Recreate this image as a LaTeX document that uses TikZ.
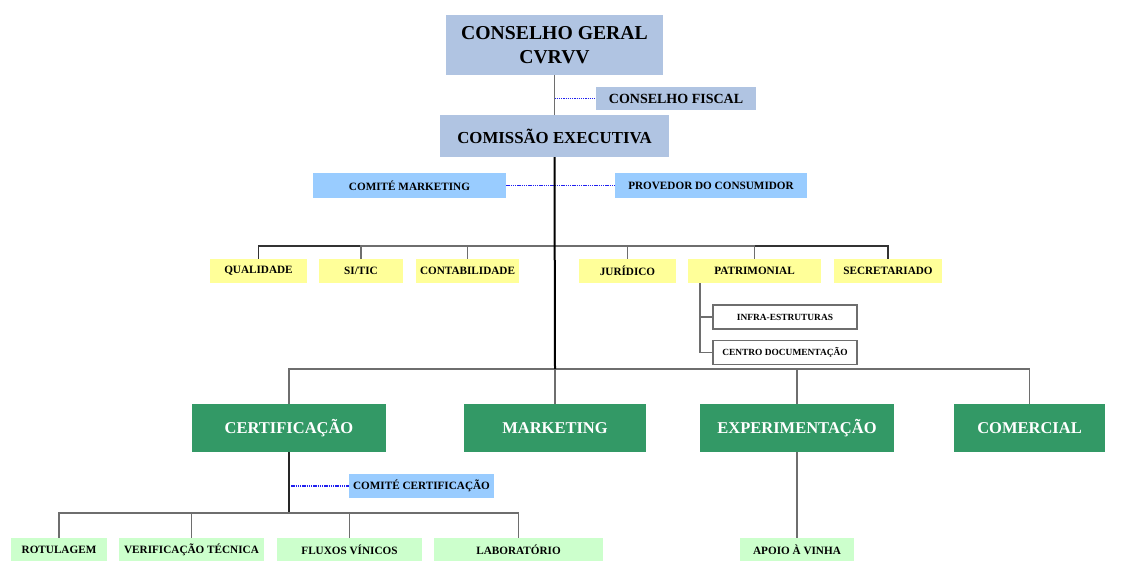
\documentclass[tikz,border=0pt]{standalone}
\usepackage{fontspec}
\setmainfont{Liberation Serif}
\usepackage{tikz}
\usetikzlibrary{calc}
\definecolor{cgblue}{HTML}{B0C4E2}
\definecolor{comiteblue}{HTML}{99CCFF}
\definecolor{staffyellow}{HTML}{FFFF99}
\definecolor{deptgreen}{HTML}{339966}
\definecolor{unitgreen}{HTML}{CCFFCC}
\definecolor{linkgray}{HTML}{6E6E6E}
\definecolor{dotblue}{HTML}{2020F0}
\newcommand{\fs}[1]{\fontsize{#1}{#1}\selectfont}
\tikzset{
  box/.style={inner sep=0pt, font=\bfseries, text=black},
  topbox/.style={box, fill=cgblue},
  comitebox/.style={box, fill=comiteblue, font=\bfseries\fs{11.2}},
  staffbox/.style={box, fill=staffyellow, font=\bfseries\fs{11.2}, minimum height=24},
  subbox/.style={box, fill=white, draw=linkgray, line width=1.1pt, font=\bfseries\fs{9.4}, minimum width=144, minimum height=24},
  deptbox/.style={box, fill=deptgreen, text=white, font=\bfseries\fs{16.5}, minimum height=48},
  unitbox/.style={box, fill=unitgreen, font=\bfseries\fs{11.2}, minimum height=23},
  link/.style={draw=linkgray, line width=1.4pt},
  trunk/.style={draw=black, line width=2pt},
  dotlink/.style={draw=dotblue, line width=1.1pt, dash pattern=on 1.3pt off 0.9pt}
}

\begin{document}
\begin{tikzpicture}[x=1pt, y=-1pt]
        \useasboundingbox (0,0) rectangle (1143,578);
        % top
        \node[topbox, minimum width=217, minimum height=60, align=center, font=\bfseries\fontsize{19.7}{24}\selectfont] (cg) at (554.5,45) {CONSELHO GERAL\\CVRVV};
        \node[topbox, minimum width=160, minimum height=23, font=\bfseries\fs{14}] (cf) at (676,98.5) {CONSELHO FISCAL};
        \node[topbox, minimum width=229, minimum height=42, font=\bfseries\fs{16.8}] (ce) at (554.5,136) {COMISSÃO EXECUTIVA};
        \node[comitebox, minimum width=193, minimum height=25] (cmk) at (409.5,185.5) {COMITÉ MARKETING};
        \node[comitebox, minimum width=192, minimum height=25] (pc) at (711,185.5) {PROVEDOR DO CONSUMIDOR};
        % staff
        \node[staffbox, minimum width=97] (qual) at (258.5,271) {QUALIDADE};
        \node[staffbox, minimum width=84] (si) at (361,271) {SI/TIC};
        \node[staffbox, minimum width=103] (cont) at (467.5,271) {CONTABILIDADE};
        \node[staffbox, minimum width=97] (jur) at (627.5,271) {JURÍDICO};
        \node[staffbox, minimum width=133] (pat) at (754.5,271) {PATRIMONIAL};
        \node[staffbox, minimum width=108] (secr) at (888,271) {SECRETARIADO};
        \node[subbox] (infra) at (785,317) {INFRA-ESTRUTURAS};
        \node[subbox] (cdoc) at (785,352.5) {CENTRO DOCUMENTAÇÃO};
        % departments
        \node[deptbox, minimum width=194] (cert) at (289,428) {CERTIFICAÇÃO};
        \node[deptbox, minimum width=182] (mkt) at (555,428) {MARKETING};
        \node[deptbox, minimum width=194] (exp) at (797,428) {EXPERIMENTAÇÃO};
        \node[deptbox, minimum width=151] (com) at (1029.5,428) {COMERCIAL};
        \node[comitebox, minimum width=145, minimum height=24] (ccert) at (421.5,486) {COMITÉ CERTIFICAÇÃO};
        % units
        \node[unitbox, minimum width=96] (rot) at (59,549.5) {ROTULAGEM};
        \node[unitbox, minimum width=145] (vt) at (191.5,549.5) {VERIFICAÇÃO TÉCNICA};
        \node[unitbox, minimum width=145] (flx) at (349.5,549.5) {FLUXOS VÍNICOS};
        \node[unitbox, minimum width=169] (lab) at (518.5,549.5) {LABORATÓRIO};
        \node[unitbox, minimum width=114] (apoio) at (797,549.5) {APOIO À VINHA};

        % bus points
        \coordinate (sbus) at (555,246);
        \coordinate (mbus) at (555,369);
        \coordinate (cbus) at (289,513);
        \coordinate (patx) at (700,283);

        % links
        \draw[dotlink] (cg.south |- cf.west) -- (cf.west);
        \draw[dotlink] (cmk.east) -- (pc.west);
        \draw[dotlink] (cert.south |- ccert.west) -- (ccert.west);
        \draw[link, line width=1.6pt] (cg.south) -- (ce.north);
        \draw[link, draw=black!80] (sbus) -| (qual.north);
        \draw[link, draw=black!80] (sbus) -| (secr.north);
        \draw[link] (sbus) -| (si.north);
        \draw[link] (sbus) -| (cont.north);
        \draw[link] (sbus) -| (jur.north);
        \draw[link] (sbus) -| (pat.north);
        \draw[link] (patx) |- (infra.west);
        \draw[link] (patx) |- (cdoc.west);
        \draw[link] (mbus) -| (cert.north);
        \draw[link] (mbus) -| (com.north);
        \draw[link] (mbus) -| (exp.north);
        \draw[link] (mbus) -- (mkt.north);
        \draw[trunk] (ce.south) -- (mbus);
        \draw[link, draw=black!85, line width=1.8pt] (cert.south) -- (cbus);
        \draw[link] (cbus) -| (rot.north);
        \draw[link] (cbus) -| (vt.north);
        \draw[link] (cbus) -| (flx.north);
        \draw[link] (cbus) -| (lab.north);
        \draw[link] (exp.south) -- (apoio.north);

    \end{tikzpicture}
\end{document}
